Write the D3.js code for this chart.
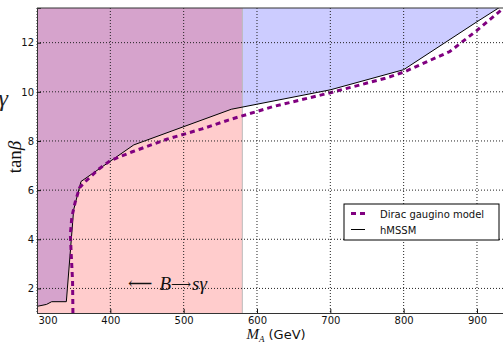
<!DOCTYPE html>
<html>
<head>
<meta charset="utf-8">
<script src="https://cdn.jsdelivr.net/npm/d3@7/dist/d3.min.js"></script>
<style>
  html, body { margin: 0; padding: 0; background: #fff; }
  svg { display: block; }
</style>
</head>
<body>
<svg id="chart" width="503" height="343"></svg>
<script>
// hMSSM exclusion boundary (M_A in GeV, tan beta)
const hmssmMA = [300, 313, 320, 340, 350, 360, 432, 565, 700, 800, 900, 950];
const hmssmTanb = [1.27, 1.35, 1.46, 1.46, 5.2, 6.35, 7.84, 9.29, 10.08, 10.9, 12.85, 13.8];

// Dirac gaugino model boundary
const diracMA = [349, 348.5, 346.5, 345.5, 347.5, 352, 358, 366, 384, 400, 430, 477, 525, 561, 622, 697, 775, 800, 863, 900, 950];
const diracTanb = [1.0, 2.3, 3.5, 4.2, 4.9, 5.5, 6.1, 6.35, 6.85, 7.2, 7.56, 8.07, 8.49, 8.85, 9.4, 9.94, 10.55, 10.8, 11.64, 12.5, 13.75];

// B -> s gamma excluded below this M_A
const bsgLimit = 580;

const xTicks = [300, 400, 500, 600, 700, 800, 900];
const yTicks = [2, 4, 6, 8, 10, 12];
const legendLabels = ['Dirac gaugino model', 'hMSSM'];

(function draw() {
  const svg = d3.select('#chart');
  const pl = 37, pt = 8, pb = 313;
  const x = d3.scaleLinear().domain([300, 950]).range([pl, pl + 650 * 0.7333]);
  const y = d3.scaleLinear().domain([1, 13.41]).range([pb, pt]);
  const pr = x.range()[1];

  svg.append('clipPath').attr('id', 'plotclip')
    .append('rect').attr('x', pl).attr('y', pt)
    .attr('width', pr - pl).attr('height', pb - pt);

  const plot = svg.append('g').attr('clip-path', 'url(#plotclip)');

  const hmssm = hmssmMA.map((m, i) => [m, hmssmTanb[i]]);
  const dirac = diracMA.map((m, i) => [m, diracTanb[i]]);

  // blue: excluded above hMSSM curve
  plot.append('path')
    .datum(hmssm)
    .attr('d', d3.area().x(d => x(d[0])).y0(y(14)).y1(d => y(d[1])))
    .attr('fill', 'blue').attr('fill-opacity', 0.2);

  // red: B -> s gamma
  plot.append('rect')
    .attr('x', x(300)).attr('y', y(14))
    .attr('width', x(bsgLimit) - x(300)).attr('height', y(1) - y(14))
    .attr('fill', 'red').attr('fill-opacity', 0.2);
  plot.append('line')
    .attr('x1', x(bsgLimit)).attr('x2', x(bsgLimit))
    .attr('y1', pt).attr('y2', pb)
    .attr('stroke', '#bbb').attr('stroke-width', 1);

  // grid
  const grid = svg.append('g');
  xTicks.forEach(t => {
    grid.append('line').attr('x1', x(t)).attr('x2', x(t)).attr('y1', pt).attr('y2', pb)
      .attr('stroke', '#222').attr('stroke-width', 1).attr('stroke-dasharray', '1,2');
  });
  yTicks.forEach(t => {
    grid.append('line').attr('x1', pl).attr('x2', pr).attr('y1', y(t)).attr('y2', y(t))
      .attr('stroke', '#222').attr('stroke-width', 1).attr('stroke-dasharray', '1,2');
  });

  // curves
  const line = d3.line().x(d => x(d[0])).y(d => y(d[1]));
  plot.append('path').datum(hmssm).attr('d', line)
    .attr('fill', 'none').attr('stroke', '#000').attr('stroke-width', 1);
  plot.append('path').datum(dirac).attr('d', line)
    .attr('fill', 'none').attr('stroke', '#800080').attr('stroke-width', 3)
    .attr('stroke-dasharray', '5,4');

  // axes
  const xAxis = svg.append('g').attr('transform', `translate(0,${pb})`)
    .call(d3.axisBottom(x).tickValues(xTicks).tickSize(-4).tickPadding(4));
  const yAxis = svg.append('g').attr('transform', `translate(${pl},0)`)
    .call(d3.axisLeft(y).tickValues(yTicks).tickSize(-4).tickPadding(3));
  [xAxis, yAxis].forEach(a => {
    a.selectAll('text').attr('font-family', 'DejaVu Sans').attr('font-size', 10).attr('fill', '#111');
    a.selectAll('.tick line').attr('stroke', '#111');
    a.select('.domain').attr('stroke', '#333');
  });
  // first x label sits just inside the left spine in the original
  xAxis.selectAll('.tick text').filter(d => d === 300).attr('text-anchor', 'start').attr('dx', 1);
  svg.append('line').attr('x1', pl).attr('x2', pr).attr('y1', pt).attr('y2', pt)
    .attr('stroke', '#333').attr('stroke-width', 1);

  // axis labels
  const xl = svg.append('text').attr('x', 276).attr('y', 339)
    .attr('text-anchor', 'middle').attr('fill', '#111');
  xl.append('tspan').attr('font-family', 'Liberation Serif').attr('font-style', 'italic').attr('font-size', 15).text('M');
  xl.append('tspan').attr('font-family', 'Liberation Serif').attr('font-style', 'italic').attr('font-size', 9).attr('dy', 3).text('A');
  xl.append('tspan').attr('font-family', 'DejaVu Sans').attr('font-size', 13).attr('dy', -3).text(' (GeV)');

  const yl = svg.append('text').attr('transform', 'translate(21,157) rotate(-90)')
    .attr('text-anchor', 'middle').attr('font-family', 'Liberation Serif').attr('font-size', 19).attr('fill', '#111');
  yl.append('tspan').text('tan');
  yl.append('tspan').attr('font-style', 'italic').text('β');

  // stray glyph cut off at the left edge
  svg.append('text').attr('x', 8).attr('y', 106).attr('text-anchor', 'end')
    .attr('font-family', 'Liberation Serif').attr('font-style', 'italic').attr('font-size', 24)
    .attr('fill', '#222').text('γ');

  // B -> s gamma annotation
  const ann = svg.append('text').attr('x', 128).attr('y', 290)
    .attr('font-family', 'Liberation Serif').attr('font-size', 19).attr('fill', '#111');
  ann.append('tspan').attr('font-family', 'DejaVu Serif').attr('font-size', 17).attr('dy', -1).text('⟵');
  ann.append('tspan').attr('font-style', 'italic').attr('dx', 7).attr('dy', 1).text('B');
  ann.append('tspan').attr('font-family', 'DejaVu Serif').attr('font-size', 14).attr('dy', -1).text('⟶');
  ann.append('tspan').attr('font-style', 'italic').attr('dx', 1).attr('dy', 1).text('sγ');

  // legend
  const lg = svg.append('g').attr('transform', 'translate(344,204)');
  lg.append('rect').attr('width', 155).attr('height', 36)
    .attr('fill', '#fff').attr('stroke', '#000').attr('stroke-width', 1);
  const styles = [
    { stroke: '#800080', width: 3, dash: '5,4' },
    { stroke: '#000', width: 1, dash: null },
  ];
  legendLabels.forEach((lab, i) => {
    const yy = 9.5 + i * 16;
    lg.append('line').attr('x1', 7).attr('x2', 21).attr('y1', yy).attr('y2', yy)
      .attr('stroke', styles[i].stroke).attr('stroke-width', styles[i].width)
      .attr('stroke-dasharray', styles[i].dash);
    lg.append('text').attr('x', 36).attr('y', yy + 4)
      .attr('font-family', 'DejaVu Sans').attr('font-size', 10).attr('fill', '#111').text(lab);
  });
})();
</script>
</body>
</html>
